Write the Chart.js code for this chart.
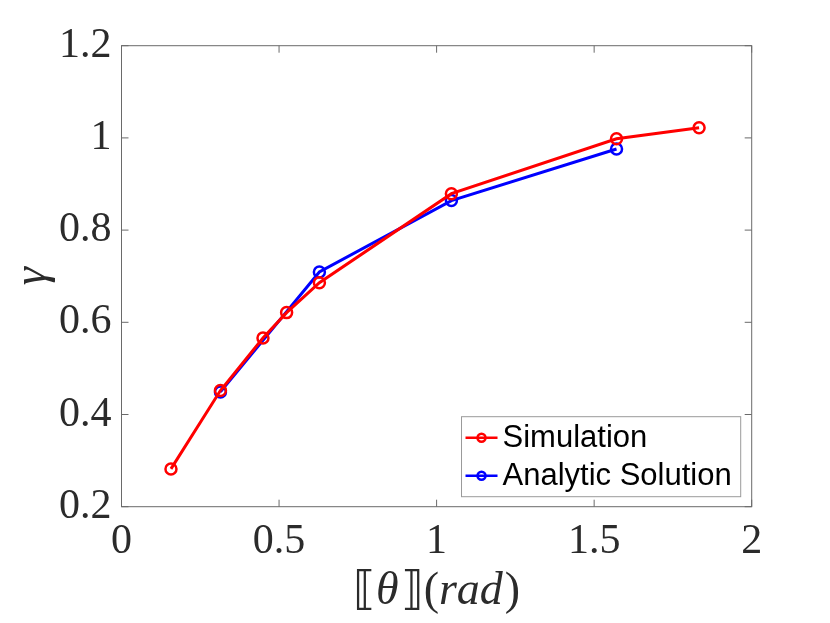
<!DOCTYPE html>
<html>
<head>
<meta charset="utf-8">
<script src="https://cdn.jsdelivr.net/npm/chart.js@4"></script>
<style>
  body { margin: 0; background: #fff; }
</style>
</head>
<body>
<canvas id="gammaChart" width="830" height="623"></canvas>
<script>
// =====================
// Data
// =====================
const simTheta = [0.157, 0.314, 0.449, 0.524, 0.628, 1.047, 1.571, 1.833]
const simGamma = [0.282, 0.452, 0.566, 0.621, 0.686, 0.879, 0.998, 1.022]

const anaTheta = [0.314, 0.628, 1.047, 1.571]
const anaGamma = [0.449, 0.709, 0.864, 0.976]

const seriesNames = ["Simulation", "Analytic Solution"]

// x title pieces: [text, italic?]
const xTitleParts = [["⟦", false], ["θ", true], ["⟧", false], ["(", false], ["rad", true], [")", false]]
const yTitle = "γ"

const AXIS_COLOR = "#6a6a6a"
const TEXT_COLOR = "#2b2b2b"
const TICK_LEN = 7
const SERIF = "'Liberation Serif', 'DejaVu Serif', serif"
const SANS = "'Liberation Sans', Arial, sans-serif"


// =====================
// Box + inward ticks (MATLAB look)
// =====================
const boxPlugin = {
  id: "box",
  beforeDatasetsDraw(chart) {
    const { ctx, chartArea: a, scales } = chart
    ctx.save()
    ctx.strokeStyle = AXIS_COLOR
    ctx.lineWidth = 1
    ctx.strokeRect(a.left, a.top, a.right - a.left, a.bottom - a.top)

    ctx.beginPath()
    scales.x.ticks.forEach(t => {
      const px = scales.x.getPixelForValue(t.value)
      ctx.moveTo(px, a.bottom)
      ctx.lineTo(px, a.bottom - TICK_LEN)
      ctx.moveTo(px, a.top)
      ctx.lineTo(px, a.top + TICK_LEN)
    })
    scales.y.ticks.forEach(t => {
      const py = scales.y.getPixelForValue(t.value)
      ctx.moveTo(a.left, py)
      ctx.lineTo(a.left + TICK_LEN, py)
      ctx.moveTo(a.right, py)
      ctx.lineTo(a.right - TICK_LEN, py)
    })
    ctx.stroke()
    ctx.restore()
  }
}


// =====================
// X title with upright brackets, italic symbols
// =====================
const xTitlePlugin = {
  id: "xTitle",
  afterDraw(chart) {
    const { ctx, chartArea: a } = chart
    ctx.save()
    ctx.fillStyle = TEXT_COLOR
    ctx.textBaseline = "alphabetic"
    const fontOf = it => `${it ? "italic " : ""}46px ${SERIF}`
    const widths = xTitleParts.map(([t, it]) => {
      ctx.font = fontOf(it)
      return ctx.measureText(t).width + (it ? 2 : 0)
    })
    const total = widths.reduce((s, w) => s + w, 0)
    let x = (a.left + a.right) / 2 - total / 2
    const baseline = chart.height - 19
    xTitleParts.forEach(([t, it], i) => {
      ctx.font = fontOf(it)
      ctx.fillText(t, x, baseline)
      x += widths[i]
    })
    ctx.restore()
  }
}


// =====================
// Legend inside the axes, bottom right
// =====================
const legendPlugin = {
  id: "insideLegend",
  afterDatasetsDraw(chart) {
    const { ctx, chartArea: a } = chart
    const sets = chart.data.datasets
    ctx.save()
    ctx.font = `31px ${SANS}`
    const textW = Math.max(...sets.map(d => ctx.measureText(d.label).width))

    const rowH = 38
    const w = 4 + 32 + 5 + textW + 9
    const h = rowH * sets.length + 4
    const x = a.right - 11 - w
    const y = a.bottom - 10 - h

    ctx.fillStyle = "#fff"
    ctx.fillRect(x, y, w, h)
    ctx.strokeStyle = "#9a9a9a"
    ctx.lineWidth = 1
    ctx.strokeRect(x, y, w, h)

    sets.forEach((d, i) => {
      const cy = y + 21 + i * rowH
      ctx.strokeStyle = d.borderColor
      ctx.lineWidth = 2.5
      ctx.beginPath()
      ctx.moveTo(x + 4, cy)
      ctx.lineTo(x + 36, cy)
      ctx.stroke()
      ctx.beginPath()
      ctx.arc(x + 20, cy, 4, 0, Math.PI * 2)
      ctx.stroke()

      ctx.fillStyle = "#000"
      ctx.textBaseline = "middle"
      ctx.fillText(d.label, x + 41, cy + 1)
    })
    ctx.restore()
  }
}


// =====================
// Build chart
// =====================
function toPoints(xs, ys) {
  return xs.map((x, i) => ({ x: x, y: ys[i] }))
}

function lineSet(label, xs, ys, color) {
  return {
    label: label,
    data: toPoints(xs, ys),
    borderColor: color,
    borderWidth: 3,
    pointStyle: "circle",
    pointRadius: 5.5,
    pointBorderWidth: 2.5,
    pointBorderColor: color,
    pointBackgroundColor: "rgba(0,0,0,0)",
    fill: false,
    tension: 0
  }
}

// MATLAB style labels: 1 not 1.0
const tickText = v => String(Math.round(v * 10) / 10)

new Chart(document.getElementById("gammaChart"), {
  type: "line",
  data: {
    datasets: [
      lineSet(seriesNames[0], simTheta, simGamma, "#ff0000"),
      lineSet(seriesNames[1], anaTheta, anaGamma, "#0000ff")
    ]
  },
  options: {
    responsive: false,
    animation: false,
    layout: { padding: { top: 45.7, right: 78.3, left: 0, bottom: 0 } },
    plugins: {
      legend: { display: false },
      tooltip: { enabled: false }
    },
    scales: {
      x: {
        type: "linear",
        min: 0,
        max: 2,
        afterFit: s => { s.height = 116.3 },
        grid: { display: false, drawTicks: false },
        border: { display: false },
        ticks: {
          stepSize: 0.5,
          padding: 10,
          color: TEXT_COLOR,
          font: { family: SERIF, size: 42 },
          callback: tickText
        },
        title: { display: false }
      },
      y: {
        type: "linear",
        min: 0.2,
        max: 1.2,
        afterFit: s => { s.width = 121.5 },
        grid: { display: false, drawTicks: false },
        border: { display: false },
        ticks: {
          stepSize: 0.2,
          padding: 10,
          color: TEXT_COLOR,
          font: { family: SERIF, size: 42 },
          callback: tickText
        },
        title: {
          display: true,
          text: yTitle,
          color: TEXT_COLOR,
          font: { family: SERIF, size: 46, style: "italic" },
          padding: { top: 5 }
        }
      }
    }
  },
  plugins: [boxPlugin, legendPlugin, xTitlePlugin]
})
</script>
</body>
</html>
